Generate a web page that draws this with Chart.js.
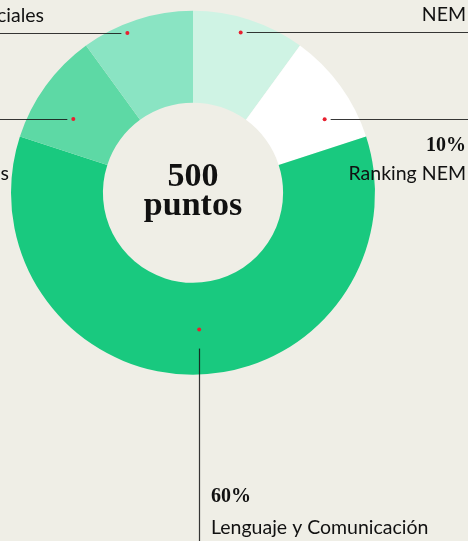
<!DOCTYPE html>
<html>
<head>
<meta charset="utf-8">
<script src="https://cdn.jsdelivr.net/npm/chart.js@4"></script>
<style>
  html, body { margin: 0; padding: 0; background: #efeee6; }
  #wrap { width: 468px; height: 541px; position: relative; }
</style>
</head>
<body>
<div id="wrap"><canvas id="c" width="468" height="541"></canvas></div>
<script>
// ---- data ----
const categories = ['NEM', 'Ranking NEM', 'Lenguaje y Comunicación', 'Matemáticas', 'Historia, Geografía y Ciencias Sociales'];
const labelLines = [['NEM'], ['Ranking NEM'], ['Lenguaje y Comunicación'], ['Matemáticas'], ['Historia, Geografía y', 'Ciencias Sociales']];
const percentages = [10, 10, 60, 10, 10];
const centerTitle = ['500', 'puntos'];
const sliceColors = ['#cff3e4', '#ffffff', '#19c97f', '#5dd9a5', '#8ae4c3'];

// ---- callout layout (positions only) ----
// f: fraction along the arc's angle, g: fraction from inner to outer radius
const callouts = [
  { f: 0.46, g: 0.84, dir: 'right', textPos: 'above' },
  { f: 0.69, g: 0.66, dir: 'right', textPos: 'below' },
  { f: 0.488, g: 0.51, dir: 'down' },
  { f: 0.38, g: 0.55, dir: 'left', textPos: 'below' },
  { f: 0.38, g: 0.90, dir: 'left', textPos: 'above' }
];

const SANS = '"Lato", "Noto Sans", sans-serif';
const SERIF = '"Liberation Serif", "DejaVu Serif", serif';

const calloutPlugin = {
  id: 'callouts',
  beforeDraw(chart) {
    const ctx = chart.ctx;
    ctx.save();
    ctx.fillStyle = '#efeee6';
    ctx.fillRect(0, 0, chart.width, chart.height);
    ctx.restore();
  },
  afterDatasetsDraw(chart) {
    const ctx = chart.ctx;
    const meta = chart.getDatasetMeta(0);
    const W = chart.width, H = chart.height;
    ctx.save();
    meta.data.forEach((arc, i) => {
      const p = arc.getProps(['x', 'y', 'startAngle', 'endAngle', 'innerRadius', 'outerRadius'], true);
      const c = callouts[i];
      const a = p.startAngle + c.f * (p.endAngle - p.startAngle);
      const r = p.innerRadius + c.g * (p.outerRadius - p.innerRadius);
      const dx = p.x + r * Math.cos(a);
      const dy = p.y + r * Math.sin(a);
      // dot
      ctx.fillStyle = '#e8202f';
      ctx.beginPath();
      ctx.arc(dx, dy, 2, 0, Math.PI * 2);
      ctx.fill();
      // line
      ctx.strokeStyle = 'rgba(20,20,20,0.85)';
      ctx.lineWidth = 1.2;
      ctx.beginPath();
      const ly = Math.round(dy) + 0.5;
      if (c.dir === 'right') { ctx.moveTo(dx + 6, ly); ctx.lineTo(W, ly); }
      else if (c.dir === 'left') { ctx.moveTo(dx - 6, ly); ctx.lineTo(0, ly); }
      else { const lx = Math.round(dx) + 0.5; ctx.moveTo(lx, dy + 19); ctx.lineTo(lx, H); }
      ctx.stroke();
      // texts
      const pct = percentages[i] + '%';
      const lines = labelLines[i];
      ctx.fillStyle = '#111';
      ctx.textBaseline = 'alphabetic';
      const pctFont = 'bold 20px ' + SERIF;
      const nameFont = '19.5px ' + SANS;
      if (c.dir === 'down') {
        const x = Math.round(dx) + 12;
        ctx.textAlign = 'left';
        ctx.font = pctFont; ctx.fillText(pct, x, dy + 172);
        ctx.font = nameFont; ctx.fillText(lines[0], x, dy + 204);
        return;
      }
      let xr, align;
      ctx.font = nameFont;
      const lastW = ctx.measureText(lines[lines.length - 1]).width;
      if (c.dir === 'right') { xr = W - 2; align = 'right'; }
      else {
        // left side: text ends near observed positions (partly cut by the edge)
        const endX = c.textPos === 'above' ? 44 : 9;
        xr = endX - lastW; align = 'left';
      }
      ctx.textAlign = align;
      if (c.textPos === 'above') {
        let base = dy - 11;
        for (let k = lines.length - 1; k >= 0; k--) {
          ctx.font = nameFont; ctx.fillText(lines[k], xr, base);
          base -= 26;
        }
        ctx.font = pctFont; ctx.fillText(pct, xr, base - 5);
      } else {
        ctx.font = pctFont; ctx.fillText(pct, xr, dy + 32);
        let base = dy + 61;
        for (let k = 0; k < lines.length; k++) {
          ctx.font = nameFont; ctx.fillText(lines[k], xr, base);
          base += 26;
        }
      }
    });
    // center text
    const p0 = meta.data[0];
    ctx.fillStyle = '#111';
    ctx.textAlign = 'center';
    ctx.font = 'bold 34px ' + SERIF;
    ctx.fillText(centerTitle[0], p0.x, p0.y - 7);
    ctx.fillText(centerTitle[1], p0.x, p0.y + 22);
    ctx.restore();
  }
};

new Chart(document.getElementById('c'), {
  type: 'doughnut',
  data: {
    labels: categories,
    datasets: [{
      data: percentages,
      backgroundColor: sliceColors,
      borderWidth: 0,
      hoverOffset: 0
    }]
  },
  options: {
    responsive: false,
    animation: false,
    cutout: '49.5%',
    layout: { padding: { left: 11, top: 10.5, right: 93, bottom: 166 } },
    plugins: { legend: { display: false }, tooltip: { enabled: false } },
    events: []
  },
  plugins: [calloutPlugin]
});
</script>
</body>
</html>
